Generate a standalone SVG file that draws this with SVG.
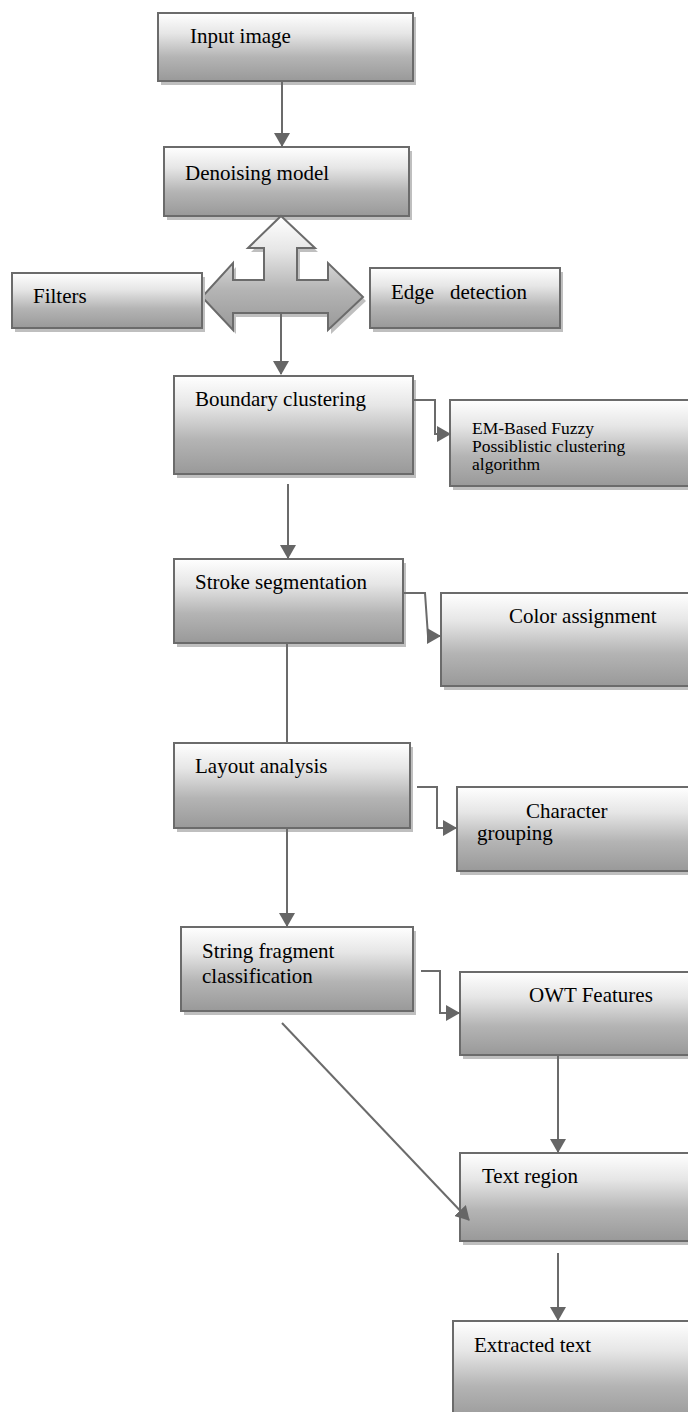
<svg xmlns="http://www.w3.org/2000/svg" width="688" height="1412" viewBox="0 0 688 1412">
<defs>
<linearGradient id="g" x1="0" y1="0" x2="0" y2="1">
<stop offset="0" stop-color="#ffffff"/>
<stop offset="0.3" stop-color="#e6e6e6"/>
<stop offset="0.65" stop-color="#b4b4b4"/>
<stop offset="1" stop-color="#999999"/>
</linearGradient>
<marker id="ah" viewBox="0 0 14 16" refX="13" refY="8" markerWidth="14" markerHeight="16" markerUnits="userSpaceOnUse" orient="auto">
<path d="M0,0 L14,8 L0,16 z" fill="#666666"/>
</marker>
<style>
.box{fill:url(#g);stroke:#6b6b6b;stroke-width:2}
.sh{fill:#bfbfbf}
.t{font-family:"Liberation Serif","Times New Roman",serif;font-size:21px;fill:#000}
.s{font-family:"Liberation Serif","Times New Roman",serif;font-size:17.5px;fill:#000}
.c{fill:none;stroke:#6b6b6b;stroke-width:2}
.ca{fill:none;stroke:#6b6b6b;stroke-width:2;marker-end:url(#ah)}
</style>
</defs>
<rect width="688" height="1412" fill="#ffffff"/>

<g id="input">
<rect class="sh" x="161" y="17" width="255" height="68"/>
<rect class="box" x="158" y="13" width="255" height="68"/>
<text class="t" x="190" y="43">Input image</text>
</g>

<g id="denoising">
<rect class="sh" x="167" y="151" width="245" height="69"/>
<rect class="box" x="164" y="147" width="245" height="69"/>
<text class="t" x="185" y="180">Denoising model</text>
</g>

<g id="split-arrow">
<polygon class="sh" transform="translate(3,4)" points="281,216 315,248 297,248 297,280 328,280 328,263 363,297 328,330 328,313 233,313 233,330 202,297 233,263 233,280 264,280 264,248 248,248"/>
<polygon class="box" points="281,216 315,248 297,248 297,280 328,280 328,263 363,297 328,330 328,313 233,313 233,330 202,297 233,263 233,280 264,280 264,248 248,248"/>
</g>

<g id="filters">
<rect class="sh" x="15" y="277" width="190" height="55"/>
<rect class="box" x="12" y="273" width="190" height="55"/>
<text class="t" x="33" y="303">Filters</text>
</g>

<g id="edge">
<rect class="sh" x="373" y="272" width="190" height="60"/>
<rect class="box" x="370" y="268" width="190" height="60"/>
<text class="t" x="391" y="299">Edge<tspan x="450">detection</tspan></text>
</g>

<g id="boundary">
<rect class="sh" x="177" y="380" width="239" height="98"/>
<rect class="box" x="174" y="376" width="239" height="98"/>
<text class="t" x="195" y="406">Boundary clustering</text>
</g>

<g id="em">
<rect class="sh" x="453" y="404" width="250" height="86"/>
<rect class="box" x="450" y="400" width="250" height="86"/>
<text class="s" x="472" y="434">EM-Based Fuzzy</text>
<text class="s" x="472" y="452">Possiblistic clustering</text>
<text class="s" x="472" y="470">algorithm</text>
</g>

<g id="stroke">
<rect class="sh" x="177" y="563" width="229" height="84"/>
<rect class="box" x="174" y="559" width="229" height="84"/>
<text class="t" x="195" y="589">Stroke segmentation</text>
</g>

<g id="color">
<rect class="sh" x="444" y="597" width="260" height="93"/>
<rect class="box" x="441" y="593" width="260" height="93"/>
<text class="t" x="509" y="623">Color assignment</text>
</g>

<g id="layout">
<rect class="sh" x="177" y="747" width="236" height="85"/>
<rect class="box" x="174" y="743" width="236" height="85"/>
<text class="t" x="195" y="773">Layout analysis</text>
</g>

<g id="character">
<rect class="sh" x="460" y="791" width="240" height="84"/>
<rect class="box" x="457" y="787" width="240" height="84"/>
<text class="t" x="526" y="818">Character</text>
<text class="t" x="477" y="840">grouping</text>
</g>

<g id="string">
<rect class="sh" x="184" y="931" width="232" height="84"/>
<rect class="box" x="181" y="927" width="232" height="84"/>
<text class="t" x="202" y="958">String fragment</text>
<text class="t" x="202" y="983">classification</text>
</g>

<g id="owt">
<rect class="sh" x="463" y="976" width="240" height="83"/>
<rect class="box" x="460" y="972" width="240" height="83"/>
<text class="t" x="529" y="1002">OWT Features</text>
</g>

<g id="textregion">
<rect class="sh" x="463" y="1157" width="240" height="88"/>
<rect class="box" x="460" y="1153" width="240" height="88"/>
<text class="t" x="482" y="1183">Text region</text>
</g>

<g id="extracted">
<rect class="sh" x="456" y="1325" width="250" height="100"/>
<rect class="box" x="453" y="1321" width="250" height="100"/>
<text class="t" x="474" y="1352">Extracted text</text>
</g>

<g id="connectors">
<path class="ca" d="M282,82 V146"/>
<path class="ca" d="M281,314 V374"/>
<path class="ca" d="M414,400 H435 V434 H450"/>
<path class="ca" d="M288,484 V558"/>
<path class="ca" d="M404,593 H425 L428,636 H440"/>
<path class="c" d="M287,644 V742"/>
<path class="ca" d="M417,787 H437 V828 H456"/>
<path class="ca" d="M287,829 V926"/>
<path class="ca" d="M421,971 H440 V1013 H459"/>
<path class="ca" d="M282,1023 L469,1220"/>
<path class="ca" d="M558,1056 V1152"/>
<path class="ca" d="M558,1253 V1320"/>
</g>
</svg>
